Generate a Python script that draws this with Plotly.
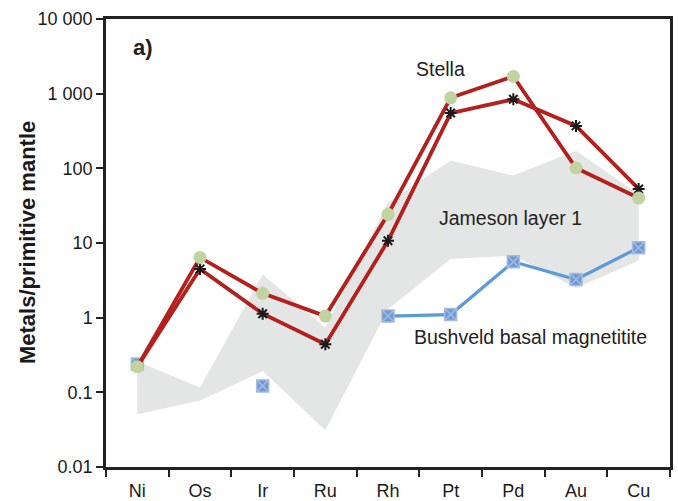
import plotly.graph_objects as go

# Elements normalised to primitive mantle
elements = ["Ni", "Os", "Ir", "Ru", "Rh", "Pt", "Pd", "Au", "Cu"]

# Stella intrusion, two profiles
stella_circles = [0.22, 6.4, 2.12, 1.05, 24.2, 880, 1700, 101, 40]
stella_crosses = [0.22, 4.5, 1.13, 0.44, 10.7, 550, 840, 370, 53]

# Bushveld basal magnetitite (Os and Ru not available)
bushveld = [0.24, None, 0.122, None, 1.05, 1.1, 5.6, 3.25, 8.65]

# Jameson layer 1 envelope
jameson_upper = [0.26, 0.116, 3.8, 0.73, 35, 127, 80, 172, 45]
jameson_lower = [0.051, 0.077, 0.193, 0.031, 1.3, 6.1, 6.8, 2.5, 5.8]

y_tickvals = [0.01, 0.1, 1, 10, 100, 1000, 10000]
y_ticktext = ["0.01", "0.1", "1", "10", "100", "1 000", "10 000"]

RED = "#B3201D"
GREEN = "#C3D3A0"
BLUE = "#5B9BDC"
FONT = "Liberation Sans, Arial, Helvetica, sans-serif"

fig = go.Figure()

# shaded field for Jameson layer 1
fig.add_trace(go.Scatter(
    x=elements + elements[::-1],
    y=jameson_upper + jameson_lower[::-1],
    fill="toself", fillcolor="#E4E5E5",
    line=dict(width=0), mode="lines", hoverinfo="skip", showlegend=False,
))

# Bushveld line and markers
fig.add_trace(go.Scatter(
    x=elements, y=bushveld, mode="lines+markers", connectgaps=False,
    line=dict(color=BLUE, width=3.2),
    marker=dict(symbol="square-x", size=12, color="#6A9BDA",
                line=dict(color="#A9B9DA", width=1.5)),
    showlegend=False,
))

# Stella profiles
fig.add_trace(go.Scatter(
    x=elements, y=stella_crosses, mode="lines",
    line=dict(color=RED, width=3.8), showlegend=False,
))
fig.add_trace(go.Scatter(
    x=elements, y=stella_circles, mode="lines",
    line=dict(color=RED, width=3.8), showlegend=False,
))
fig.add_trace(go.Scatter(
    x=elements, y=stella_crosses, mode="markers",
    marker=dict(symbol="asterisk-open", size=10, color="#1A1A1A",
                line=dict(color="#1A1A1A", width=2)),
    showlegend=False,
))
fig.add_trace(go.Scatter(
    x=elements, y=stella_circles, mode="markers",
    marker=dict(symbol="circle", size=13, color=GREEN, line=dict(width=0)),
    showlegend=False,
))


def label(text, x, y, size=19.5, angle=0):
    return dict(text=text, x=x, y=y, xref="paper", yref="paper",
                xanchor="center", yanchor="middle", showarrow=False,
                textangle=angle, font=dict(size=size, color="#222222"))


annotations = [
    label("<b>a)</b>", 0.066, 0.936, size=22),
    label("Stella", 0.593, 0.888),
    label("Jameson layer 1", 0.717, 0.556),
    label("Bushveld basal magnetitite", 0.752, 0.291),
    # y-axis title placed beside the tick labels
    dict(text="<b>Metals/primitive mantle</b>", x=-0.140, y=0.5,
         xref="paper", yref="paper", xanchor="center", yanchor="middle",
         showarrow=False, textangle=-90,
         font=dict(size=22, color="#1A1A1A")),
]

fig.update_layout(
    width=678, height=501,
    margin=dict(l=106, r=8, t=19, b=34),
    paper_bgcolor="white", plot_bgcolor="white",
    font=dict(family=FONT, size=18, color="#1A1A1A"),
    annotations=annotations,
    xaxis=dict(
        type="category", categoryorder="array", categoryarray=elements,
        range=[-0.5, 8.5], tickson="boundaries",
        ticks="outside", ticklen=7, tickwidth=2, tickcolor="#222222",
        showline=True, linecolor="#222222", linewidth=2.5, mirror=True,
        showgrid=False, zeroline=False, automargin=False,
        tickfont=dict(size=18), ticklabelstandoff=6,
    ),
    yaxis=dict(
        type="log", range=[-2, 4],
        tickvals=y_tickvals, ticktext=y_ticktext,
        ticks="outside", ticklen=7, tickwidth=2, tickcolor="#222222",
        showline=True, linecolor="#222222", linewidth=2.5, mirror=True,
        showgrid=False, zeroline=False, automargin=False,
        tickfont=dict(size=18),
    ),
)

fig.write_html("out.html")
